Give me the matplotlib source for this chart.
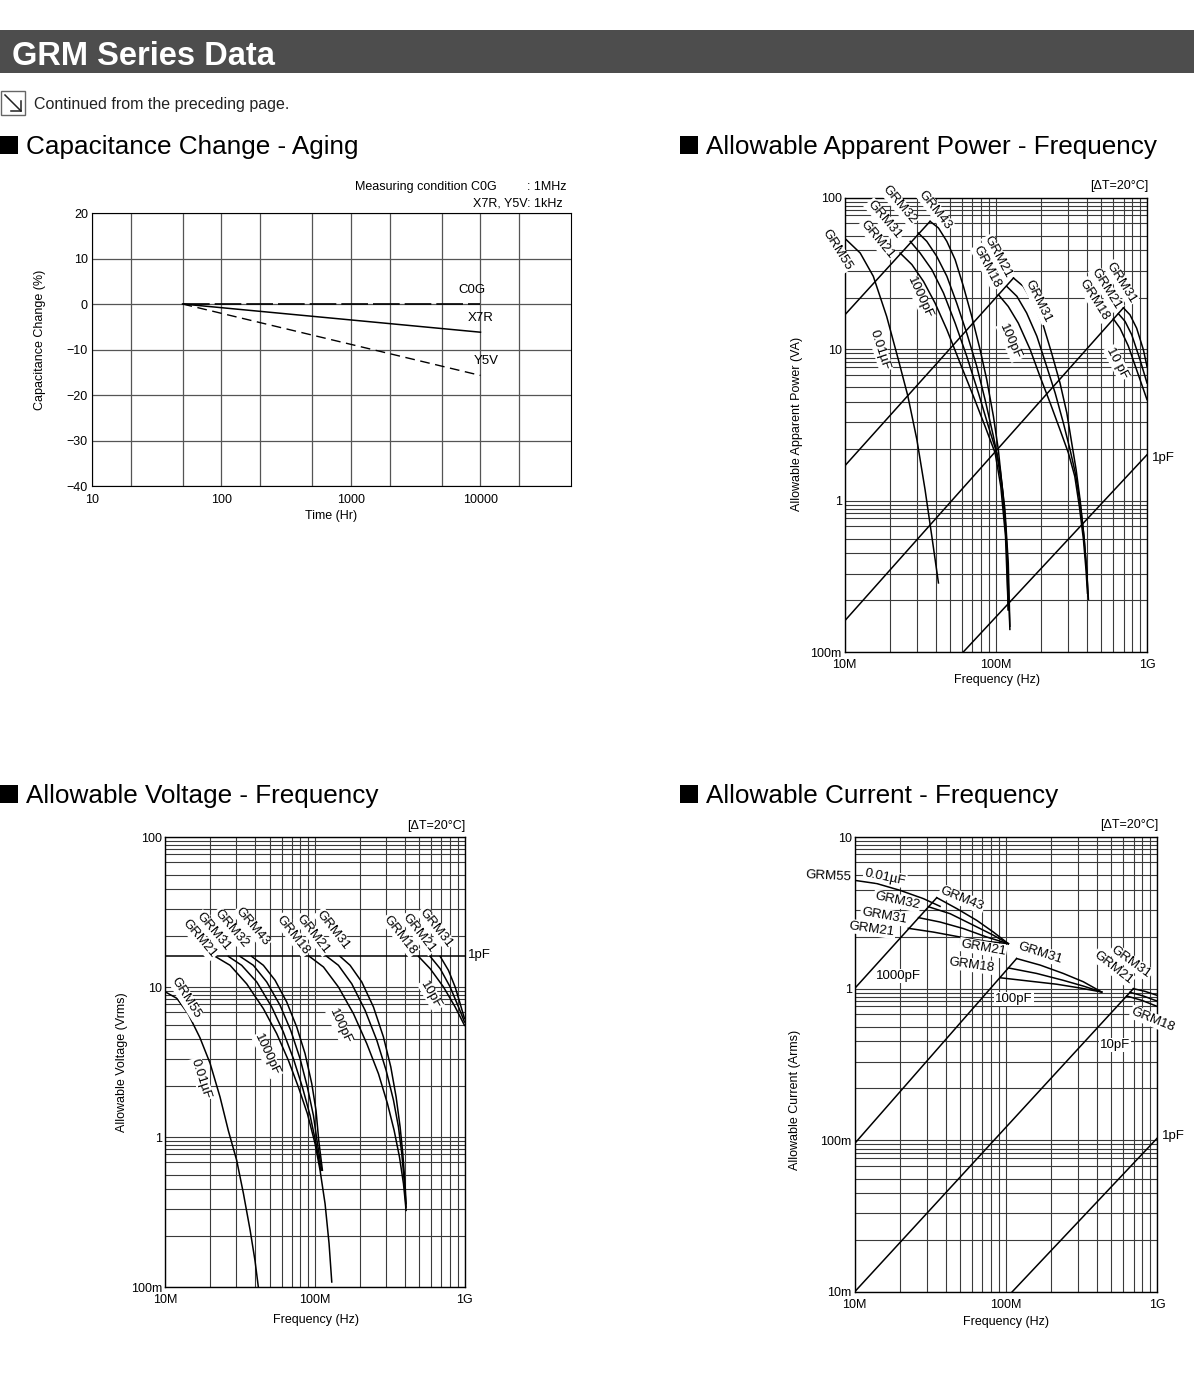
"""
GRM series data sheet page: capacitance aging and allowable
power / voltage / current versus frequency.
"""

import matplotlib
matplotlib.use("Agg")
import numpy as np
import matplotlib.pyplot as plt
from matplotlib.lines import Line2D
from matplotlib.patches import Rectangle
from matplotlib.ticker import NullFormatter

plt.rcParams['font.family'] = ['Liberation Sans', 'DejaVu Sans']

W, H = 1194, 1374

# ---- Capacitance change - aging (hours, %) ----
aging_hours = [50, 10000]
c0g_change = [0, 0]
x7r_change = [0, -6.2]
y5v_change = [0, -15.7]

# ---- Allowable apparent power (frequency in MHz, power in VA) ----
pw_1000pF_line_f = [10, 36.8]
pw_1000pF_line_p = [16.8, 70.1]
pw_100pF_line_f = [10, 131]
pw_100pF_line_p = [1.69, 29.6]
pw_10pF_line_f = [10, 698]
pw_10pF_line_p = [0.16, 18.8]
pw_1pF_line_f = [61, 1000]
pw_1pF_line_p = [0.1, 2.01]

pw_grm55_f = [10, 12.7, 15.5, 19.0, 22.7, 26.2, 30.1, 34.1, 37.8, 41.8]
pw_grm55_p = [54.4, 43.3, 30.4, 16.5, 8.55, 4.94, 2.53, 1.18, 0.58, 0.286]

pw_1000pF_grm43_f = [36.8, 41.8, 47.5, 53.9, 61.1, 69.4, 78.8, 87.2, 96.5, 104, 112, 119, 124]
pw_1000pF_grm43_p = [70.1, 63.4, 51.7, 39.1, 26.1, 16.5, 9.95, 6.30, 3.61, 2.17, 1.07, 0.451, 0.141]
pw_1000pF_grm32_f = [30.8, 35.0, 40.7, 47.5, 55.2, 64.3, 74.9, 85.0, 96.5, 107, 115, 121, 124]
pw_1000pF_grm32_p = [58.7, 51.7, 41.2, 30.4, 20.2, 12.8, 7.72, 4.65, 2.66, 1.60, 0.872, 0.387, 0.148]
pw_1000pF_grm31_f = [27.2, 31.6, 37.8, 45.1, 53.9, 64.3, 76.8, 89.4, 101.5, 110, 117, 121]
pw_1000pF_grm31_p = [51.7, 43.3, 33.6, 23.6, 14.9, 9.0, 5.15, 3.10, 2.07, 1.24, 0.643, 0.190]
pw_1000pF_grm21_f = [23.3, 27.9, 33.3, 39.7, 47.5, 58.1, 71.2, 85.0, 99.0, 108, 116, 121]
pw_1000pF_grm21_p = [43.3, 36.3, 28.1, 20.2, 13.5, 8.12, 4.89, 3.10, 2.07, 1.24, 0.581, 0.190]

pw_100pF_grm31_f = [131, 152, 177, 207, 234, 266, 295, 318, 340, 361, 383, 399, 410]
pw_100pF_grm31_p = [29.6, 26.1, 20.2, 14.2, 9.46, 5.99, 3.80, 2.40, 1.60, 1.015, 0.581, 0.350, 0.222]
pw_100pF_grm21_f = [118, 138, 160, 187, 217, 247, 280, 310, 336, 361, 383, 399, 408]
pw_100pF_grm21_p = [26.1, 22.4, 17.4, 12.2, 7.72, 5.15, 3.26, 2.17, 1.52, 0.965, 0.581, 0.350, 0.233]
pw_100pF_grm18_f = [104, 121, 141, 169, 196, 229, 266, 302, 333, 357, 380, 395, 404]
pw_100pF_grm18_p = [23.0, 19.2, 14.9, 9.95, 6.63, 4.42, 2.94, 2.07, 1.45, 0.918, 0.553, 0.350, 0.245]

pw_10pF_grm31_f = [698, 772, 854, 946, 1000]
pw_10pF_grm31_p = [18.8, 16.9, 13.8, 9.95, 7.72]
pw_10pF_grm21_f = [647, 716, 792, 899, 1000]
pw_10pF_grm21_p = [17.2, 15.3, 12.5, 8.55, 5.99]
pw_10pF_grm18_f = [599, 663, 753, 876, 1000]
pw_10pF_grm18_p = [15.9, 13.8, 10.5, 6.80, 4.65]

# ---- Allowable voltage (frequency in MHz, voltage in Vrms) ----
vt_1pF_line_f = [10, 1000]
vt_1pF_line_v = [16.0, 16.0]

vt_grm55_f = [10, 12.0, 14.3, 17.1, 20.0, 23.3, 26.5, 30.1, 33.4, 37.0, 39.9, 42.0]
vt_grm55_v = [9.3, 8.4, 6.6, 4.6, 3.1, 1.85, 1.1, 0.70, 0.42, 0.24, 0.15, 0.1]

vt_1000pF_grm21_f = [21.6, 27.2, 35.1, 45.4, 55.7, 66.7, 77.8, 89.3, 100.5, 108.5, 117.2, 124.6, 129.9]
vt_1000pF_grm21_v = [16.0, 13.95, 10.5, 7.17, 4.89, 3.24, 2.15, 1.43, 0.903, 0.60, 0.359, 0.195, 0.108]
vt_1000pF_grm31_f = [26.5, 32.5, 41.0, 51.6, 61.7, 72.0, 82.7, 93.1, 102, 109.7]
vt_1000pF_grm31_v = [16.0, 13.95, 10.8, 7.36, 5.01, 3.33, 2.15, 1.39, 0.903, 0.60]
vt_1000pF_grm32_f = [31.7, 38.9, 47.8, 58.7, 69.1, 79.8, 89.3, 98.0, 104.2, 111.4]
vt_1000pF_grm32_v = [16.0, 13.95, 10.8, 7.54, 5.14, 3.33, 2.15, 1.39, 0.903, 0.60]
vt_1000pF_grm43_f = [37.9, 45.4, 54.3, 65.0, 75.8, 86.2, 95.5, 102, 106.3, 112.5]
vt_1000pF_grm43_v = [16.0, 13.95, 11.1, 7.94, 5.41, 3.59, 2.27, 1.50, 0.95, 0.60]

vt_100pF_grm18_f = [92.1, 114.3, 143.9, 181.3, 222.6, 266.4, 305.9, 338.9, 367.9, 391.2, 407.6]
vt_100pF_grm18_v = [16.0, 13.6, 10.0, 6.64, 4.19, 2.64, 1.67, 1.107, 0.736, 0.489, 0.324]
vt_100pF_grm21_f = [120.3, 143.9, 176.7, 216.9, 259.7, 299.7, 335.5, 362.2, 381.3, 395.3, 407.6]
vt_100pF_grm21_v = [16.0, 13.95, 10.5, 6.99, 4.41, 2.78, 1.76, 1.166, 0.774, 0.514, 0.341]
vt_100pF_grm31_f = [147.7, 172.2, 206.1, 246.6, 287.6, 322.0, 349.4, 371.6, 387.3, 399.4, 407.6]
vt_100pF_grm31_v = [16.0, 13.95, 10.8, 7.36, 4.64, 2.93, 1.85, 1.166, 0.774, 0.514, 0.359]

vt_10pF_grm18_f = [492.8, 589.8, 724.0, 866.1, 1000]
vt_10pF_grm18_v = [16.0, 13.25, 10.0, 7.36, 5.55]
vt_10pF_grm21_f = [589.8, 687.9, 802.1, 911.8, 1000]
vt_10pF_grm21_v = [16.0, 13.25, 10.0, 7.36, 5.84]
vt_10pF_grm31_f = [687.9, 781.8, 866.1, 935.4, 1000]
vt_10pF_grm31_v = [16.0, 12.9, 10.0, 7.74, 6.15]

# ---- Allowable current (frequency in MHz, current in Arms) ----
cu_1000pF_line_f = [10, 35.0]
cu_1000pF_line_i = [1.0, 3.98]
cu_100pF_line_f = [10, 118]
cu_100pF_line_i = [0.095, 1.58]
cu_10pF_line_f = [10, 698]
cu_10pF_line_i = [0.01, 1.0]
cu_1pF_line_f = [110, 1000]
cu_1pF_line_i = [0.01, 0.103]

cu_grm55_f = [10, 14.05, 20.0, 28.6, 36.8]
cu_grm55_i = [5.18, 4.93, 4.45, 3.92, 3.49]
cu_1000pF_grm43_f = [35.0, 47.5, 64.3, 82.9, 104]
cu_1000pF_grm43_i = [3.98, 3.37, 2.82, 2.36, 1.98]
cu_1000pF_grm32_f = [30.8, 42.9, 61.1, 82.9, 104]
cu_1000pF_grm32_i = [3.47, 3.12, 2.62, 2.25, 1.98]
cu_1000pF_grm31_f = [26.5, 36.8, 52.5, 74.9, 104]
cu_1000pF_grm31_i = [2.94, 2.75, 2.49, 2.19, 1.98]
cu_1000pF_grm21_f = [22.7, 33.3, 49.9, 74.9, 104]
cu_1000pF_grm21_i = [2.50, 2.36, 2.19, 2.05, 1.98]

cu_100pF_grm31_f = [118, 169, 240, 326, 431]
cu_100pF_grm31_i = [1.58, 1.43, 1.26, 1.11, 0.95]
cu_100pF_grm21_f = [104, 160, 240, 326, 431]
cu_100pF_grm21_i = [1.37, 1.26, 1.135, 1.04, 0.95]
cu_100pF_grm18_f = [91.8, 145, 217, 310, 431]
cu_100pF_grm18_i = [1.18, 1.12, 1.07, 1.01, 0.95]

cu_10pF_grm31_f = [698, 833, 1000]
cu_10pF_grm31_i = [1.0, 0.96, 0.904]
cu_10pF_grm21_f = [663, 812, 1000]
cu_10pF_grm21_i = [0.946, 0.895, 0.829]
cu_10pF_grm18_f = [630, 792, 1000]
cu_10pF_grm18_i = [0.895, 0.838, 0.765]

# tick labels
freq_ticks = [10, 100, 1000]
freq_labels = ['10M', '100M', '1G']
aging_xticks = [10, 100, 1000, 10000]
aging_yticks = [20, 10, 0, -10, -20, -30, -40]
# horizontal grid steps inside one decade (as drawn on the sheet)
grid_steps = [2.2, 3.3, 4.5, 5.6, 6.8, 7.7, 8.3, 8.8, 9.4]

fig = plt.figure(figsize=(W / 100, H / 100), dpi=100)


def rect(left, top, right, bottom):
    """Pixel box -> figure fraction rectangle."""
    return [left / W, 1 - bottom / H, (right - left) / W, (bottom - top) / H]


def ptext(x, y, s, rot=0, size=9.5, box=False, **kw):
    """Text placed in pixel coordinates of the page."""
    if box:
        kw['bbox'] = dict(facecolor='white', edgecolor='none', pad=0.8)
    kw.setdefault('ha', 'center')
    kw.setdefault('va', 'center')
    return fig.text(x / W, 1 - y / H, s, rotation=rot, fontsize=size, **kw)


def section_title(x, y, s):
    """Black square bullet + heading, y is the baseline in pixels."""
    fig.add_artist(Rectangle((x / W, 1 - y / H), 18 / W, 18 / H, transform=fig.transFigure,
                             facecolor='black', edgecolor='none'))
    ptext(x + 26, y, s, size=18.8, ha='left', va='baseline')


def freq_axes(box, ylim, yticks, ylabels):
    ax = fig.add_axes(rect(*box))
    ax.set_xscale('log')
    ax.set_yscale('log')
    ax.set_xlim(10, 1000)
    ax.set_ylim(*ylim)
    ax.set_xticks(freq_ticks, freq_labels)
    ax.set_yticks(yticks, ylabels)
    ax.set_xticks([k * 10 ** d for d in (1, 2) for k in range(2, 10)], minor=True)
    lo, hi = int(round(np.log10(ylim[0]))), int(round(np.log10(ylim[1])))
    ax.set_yticks([s * 10.0 ** d for d in range(lo, hi) for s in grid_steps], minor=True)
    ax.xaxis.set_minor_formatter(NullFormatter())
    ax.yaxis.set_minor_formatter(NullFormatter())
    ax.tick_params(which='both', length=0, labelsize=9)
    ax.tick_params(axis='x', pad=5)
    ax.tick_params(axis='y', pad=2)
    ax.grid(True, which='both', color='#3a3a3a', linewidth=0.8)
    for sp in ax.spines.values():
        sp.set_linewidth(1.0)
    return ax


def curves(ax, pairs):
    for xs, ys in pairs:
        ax.plot(xs, ys, color='black', linewidth=1.1)


# ---- page header ----
fig.add_artist(Rectangle((0, 1 - 73 / H), 1, 43 / H, transform=fig.transFigure,
                         facecolor='#4d4d4d', edgecolor='none'))
ptext(12, 65, 'GRM Series Data', size=23.5, color='white', weight='bold',
      ha='left', va='baseline')

fig.add_artist(Rectangle((1 / W, 1 - 115 / H), 24 / W, 24 / H, transform=fig.transFigure,
                         facecolor='white', edgecolor='#666666', linewidth=1.0))
for xs, ys in [([5, 20.5], [95, 110.5]), ([11, 20.5], [110.5, 110.5]), ([20.5, 20.5], [101, 110.5])]:
    fig.add_artist(Line2D([x / W for x in xs], [1 - y / H for y in ys],
                          transform=fig.transFigure, color='#222222', linewidth=1.1))
ptext(34, 109, 'Continued from the preceding page.', size=11.5, ha='left', va='baseline',
      color='#222222')

section_title(0, 154, 'Capacitance Change - Aging')
section_title(680, 154, 'Allowable Apparent Power - Frequency')
section_title(0, 803, 'Allowable Voltage - Frequency')
section_title(680, 803, 'Allowable Current - Frequency')

# ---- capacitance change - aging ----
ax1 = fig.add_axes(rect(92, 213, 571, 486))
ax1.set_xscale('log')
ax1.set_xlim(10, 50000)
ax1.set_ylim(-40, 20)
ax1.set_xticks(aging_xticks, [str(v) for v in aging_xticks])
ax1.set_xticks([20, 50, 200, 500, 2000, 5000, 20000], minor=True)
ax1.xaxis.set_minor_formatter(NullFormatter())
ax1.set_yticks(aging_yticks)
ax1.tick_params(which='both', length=0, labelsize=9)
ax1.tick_params(axis='x', pad=6)
ax1.tick_params(axis='y', pad=3)
ax1.grid(True, which='both', color='#555555', linewidth=0.9)
ax1.plot(aging_hours, c0g_change, color='black', linewidth=1.2, dashes=(16, 3))
ax1.plot(aging_hours, x7r_change, color='black', linewidth=1.1)
ax1.plot(aging_hours, y5v_change, color='black', linewidth=1.0, dashes=(7, 4))
ax1.text(8600, 3.1, 'C0G', fontsize=9.5, ha='center', va='center')
ax1.text(10000, -3.1, 'X7R', fontsize=9.5, ha='center', va='center')
ax1.text(11100, -12.5, 'Y5V', fontsize=9.5, ha='center', va='center')
ptext(497, 190, 'Measuring condition C0G', size=9, ha='right', va='baseline')
ptext(527, 190, ': 1MHz', size=9, ha='left', va='baseline')
ptext(563, 206, 'X7R, Y5V: 1kHz', size=9, ha='right', va='baseline')
ptext(331, 516, 'Time (Hr)', size=9)
ptext(40, 340, 'Capacitance Change (%)', size=9, rot=90)

# ---- allowable apparent power ----
ax2 = freq_axes((844.5, 198, 1147, 652), (0.1, 100), [0.1, 1, 10, 100], ['100m', '1', '10', '100'])
curves(ax2, [
    (pw_1000pF_line_f, pw_1000pF_line_p), (pw_100pF_line_f, pw_100pF_line_p),
    (pw_10pF_line_f, pw_10pF_line_p), (pw_1pF_line_f, pw_1pF_line_p),
    (pw_grm55_f, pw_grm55_p),
    (pw_1000pF_grm43_f, pw_1000pF_grm43_p), (pw_1000pF_grm32_f, pw_1000pF_grm32_p),
    (pw_1000pF_grm31_f, pw_1000pF_grm31_p), (pw_1000pF_grm21_f, pw_1000pF_grm21_p),
    (pw_100pF_grm31_f, pw_100pF_grm31_p), (pw_100pF_grm21_f, pw_100pF_grm21_p),
    (pw_100pF_grm18_f, pw_100pF_grm18_p),
    (pw_10pF_grm31_f, pw_10pF_grm31_p), (pw_10pF_grm21_f, pw_10pF_grm21_p),
    (pw_10pF_grm18_f, pw_10pF_grm18_p),
])
for x, y, s, r in [(837, 250, 'GRM55', -58), (877, 240, 'GRM21', -50), (884, 220, 'GRM31', -50),
                   (899, 205, 'GRM32', -50), (935, 210, 'GRM43', -52), (920, 298, '1000pF', -65),
                   (880, 350, '0.01µF', -72), (998, 257, 'GRM21', -62), (987, 267, 'GRM18', -62),
                   (1038, 301, 'GRM31', -64), (1010, 342, '100pF', -66), (1121, 283, 'GRM31', -58),
                   (1106, 289, 'GRM21', -58), (1094, 300, 'GRM18', -58), (1117, 363, '10 pF', -62)]:
    ptext(x, y, s, rot=r, box=True)
ptext(1152, 458, '1pF', ha='left')
ptext(1148, 186, '[ΔT=20°C]', size=9, ha='right')
ptext(997, 680, 'Frequency (Hz)', size=9)
ptext(797, 424, 'Allowable Apparent Power (VA)', size=9, rot=90)

# ---- allowable voltage ----
ax3 = freq_axes((165, 837, 464.5, 1287), (0.1, 100), [0.1, 1, 10, 100], ['100m', '1', '10', '100'])
curves(ax3, [
    (vt_1pF_line_f, vt_1pF_line_v), (vt_grm55_f, vt_grm55_v),
    (vt_1000pF_grm21_f, vt_1000pF_grm21_v), (vt_1000pF_grm31_f, vt_1000pF_grm31_v),
    (vt_1000pF_grm32_f, vt_1000pF_grm32_v), (vt_1000pF_grm43_f, vt_1000pF_grm43_v),
    (vt_100pF_grm18_f, vt_100pF_grm18_v), (vt_100pF_grm21_f, vt_100pF_grm21_v),
    (vt_100pF_grm31_f, vt_100pF_grm31_v),
    (vt_10pF_grm18_f, vt_10pF_grm18_v), (vt_10pF_grm21_f, vt_10pF_grm21_v),
    (vt_10pF_grm31_f, vt_10pF_grm31_v),
])
for x, y, s, r in [(186, 998, 'GRM55', -58), (201, 1079, '0.01µF', -72), (199, 939, 'GRM21', -50),
                   (213, 932, 'GRM31', -50), (231, 929, 'GRM32', -50), (252, 927, 'GRM43', -50),
                   (267, 1055, '1000pF', -65), (293, 935, 'GRM18', -52), (313, 934, 'GRM21', -52),
                   (333, 930, 'GRM31', -52), (340, 1027, '100pF', -65), (400, 935, 'GRM18', -52),
                   (419, 933, 'GRM21', -52), (436, 928, 'GRM31', -52), (431, 995, '10pF', -60)]:
    ptext(x, y, s, rot=r, box=True)
ptext(468, 955, '1pF', ha='left')
ptext(465, 826, '[ΔT=20°C]', size=9, ha='right')
ptext(316, 1320, 'Frequency (Hz)', size=9)
ptext(122, 1062, 'Allowable Voltage (Vrms)', size=9, rot=90)

# ---- allowable current ----
ax4 = freq_axes((854.5, 837, 1157, 1292), (0.01, 10), [0.01, 0.1, 1, 10], ['10m', '100m', '1', '10'])
curves(ax4, [
    (cu_1000pF_line_f, cu_1000pF_line_i), (cu_100pF_line_f, cu_100pF_line_i),
    (cu_10pF_line_f, cu_10pF_line_i), (cu_1pF_line_f, cu_1pF_line_i),
    (cu_grm55_f, cu_grm55_i),
    (cu_1000pF_grm43_f, cu_1000pF_grm43_i), (cu_1000pF_grm32_f, cu_1000pF_grm32_i),
    (cu_1000pF_grm31_f, cu_1000pF_grm31_i), (cu_1000pF_grm21_f, cu_1000pF_grm21_i),
    (cu_100pF_grm31_f, cu_100pF_grm31_i), (cu_100pF_grm21_f, cu_100pF_grm21_i),
    (cu_100pF_grm18_f, cu_100pF_grm18_i),
    (cu_10pF_grm31_f, cu_10pF_grm31_i), (cu_10pF_grm21_f, cu_10pF_grm21_i),
    (cu_10pF_grm18_f, cu_10pF_grm18_i),
])
for x, y, s, r in [(828, 876, 'GRM55', -3), (885, 877, '0.01µF', -12), (897, 901, 'GRM32', -12),
                   (884, 916, 'GRM31', -10), (872, 929, 'GRM21', -8), (962, 899, 'GRM43', -22),
                   (898, 976, '1000pF', 0), (983, 948, 'GRM21', -10), (972, 965, 'GRM18', -8),
                   (1040, 953, 'GRM31', -18), (1014, 999, '100pF', 0), (1131, 962, 'GRM31', -36),
                   (1113, 968, 'GRM21', -38), (1153, 1020, 'GRM18', -22), (1115, 1045, '10pF', 0)]:
    ptext(x, y, s, rot=r, box=True)
ptext(1162, 1136, '1pF', ha='left')
ptext(1158, 825, '[ΔT=20°C]', size=9, ha='right')
ptext(1006, 1322, 'Frequency (Hz)', size=9)
ptext(795, 1100, 'Allowable Current (Arms)', size=9, rot=90)

fig.savefig('out.png', dpi=100)
